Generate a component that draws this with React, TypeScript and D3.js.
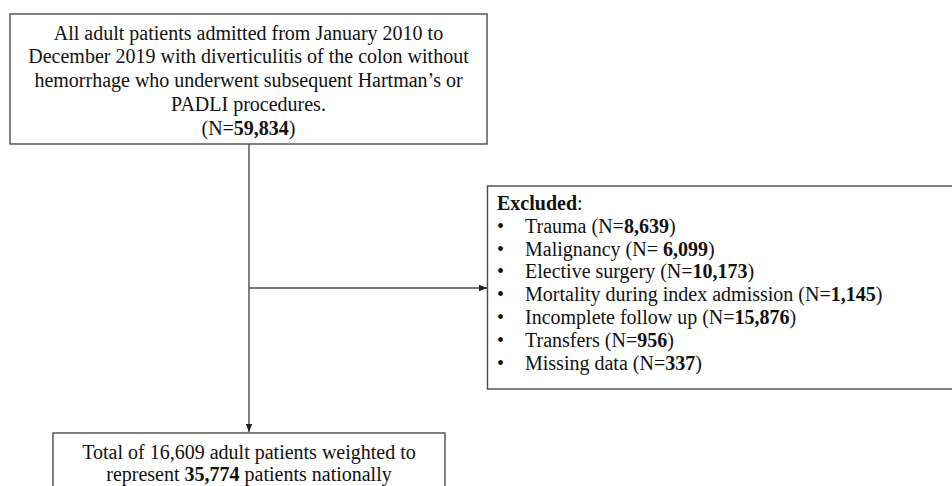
import React from "react";
import { scaleLinear } from "d3";

// text of the flow boxes
const topLines = [
  "All adult patients admitted from January 2010 to",
  "December 2019 with diverticulitis of the colon without",
  "hemorrhage who underwent subsequent Hartman\u2019s or",
  "PADLI procedures.",
];
const topTotal = "59,834";

const excludedLabels = [
  "Trauma (N=",
  "Malignancy (N= ",
  "Elective surgery (N=",
  "Mortality during index admission (N=",
  "Incomplete follow up (N=",
  "Transfers (N=",
  "Missing data (N=",
];
const excludedCounts = ["8,639", "6,099", "10,173", "1,145", "15,876", "956", "337"];

const finalSample = "16,609";
const finalWeighted = "35,774";

const FONT = "'Liberation Serif', 'Times New Roman', serif";
const STROKE = "#4a4a4a";

const App = () => {
  // row positions for the stacked text lines
  const topY = scaleLinear().domain([0, 1]).range([39.5, 63.3]);
  const exY = scaleLinear().domain([0, 1]).range([210, 232.8]);
  const botY = scaleLinear().domain([0, 1]).range([458.5, 481]);

  const stemX = 249;
  const branchY = 288;

  return (
    <svg
      width={952}
      height={486}
      style={{ position: "fixed", left: 0, top: 0, display: "block", background: "#fff" }}
    >
      <defs>
        <marker id="arrow" viewBox="0 0 10 10" refX="10" refY="5" markerWidth="6" markerHeight="6" orient="auto">
          <path d="M0,1 L10,5 L0,9 z" fill="#222" />
        </marker>
      </defs>

      {/* boxes */}
      <rect x={10} y={14} width={477} height={130} fill="none" stroke={STROKE} strokeWidth={1.4} />
      <rect x={487.5} y={186} width={500} height={203} fill="none" stroke={STROKE} strokeWidth={1.4} />
      <rect x={53} y={433} width={392} height={80} fill="none" stroke={STROKE} strokeWidth={1.4} />

      {/* connectors */}
      <line x1={stemX} y1={144} x2={stemX} y2={432} stroke={STROKE} strokeWidth={1.4} markerEnd="url(#arrow)" />
      <line x1={stemX} y1={branchY} x2={487} y2={branchY} stroke={STROKE} strokeWidth={1.4} markerEnd="url(#arrow)" />

      <g fontFamily={FONT} fontSize={20} fill="#111">
        {topLines.map((t, i) => (
          <text key={t} x={248.5} y={topY(i)} textAnchor="middle">{t}</text>
        ))}
        <text x={248.5} y={topY(topLines.length)} textAnchor="middle">
          (N=<tspan fontWeight="bold">{topTotal}</tspan>)
        </text>

        <text x={497} y={exY(0)}>
          <tspan fontWeight="bold">Excluded</tspan>:
        </text>
        {excludedLabels.map((lab, i) => (
          <g key={lab}>
            <text x={497} y={exY(i + 1)}>{"\u2022"}</text>
            <text x={525} y={exY(i + 1)}>
              {lab}
              <tspan fontWeight="bold">{excludedCounts[i]}</tspan>)
            </text>
          </g>
        ))}

        <text x={249} y={botY(0)} textAnchor="middle">
          Total of {finalSample} adult patients weighted to
        </text>
        <text x={249} y={botY(1)} textAnchor="middle">
          represent <tspan fontWeight="bold">{finalWeighted}</tspan> patients nationally
        </text>
      </g>
    </svg>
  );
};

export default App;
